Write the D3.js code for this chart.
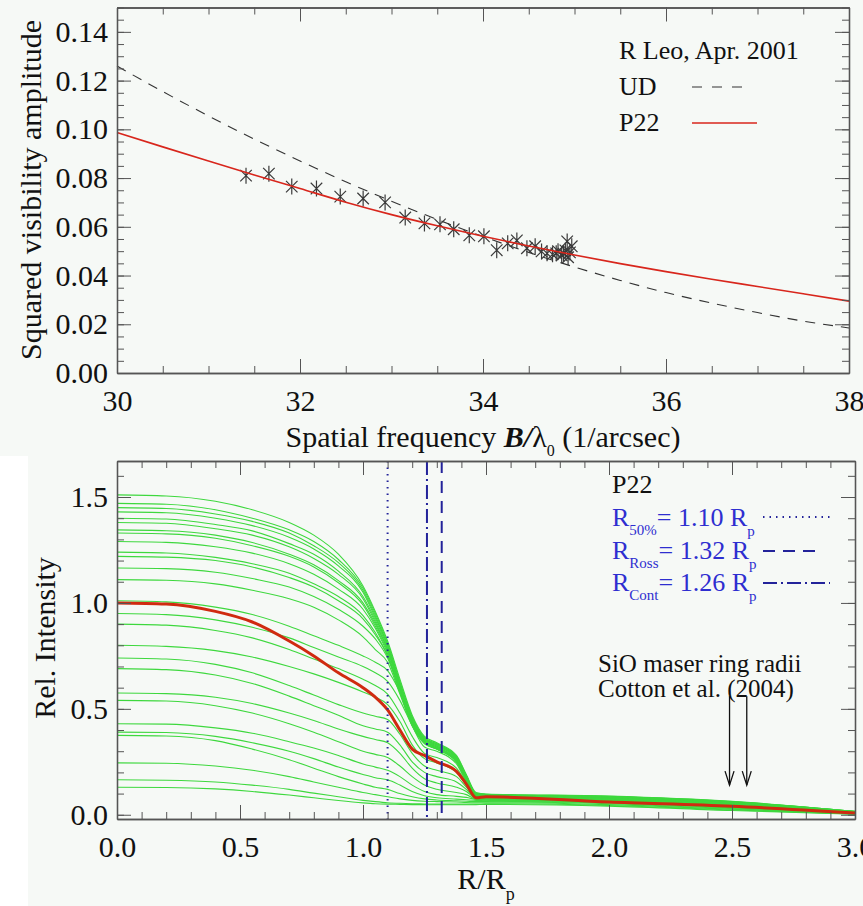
<!DOCTYPE html>
<html>
<head>
<meta charset="utf-8">
<script src="https://cdn.jsdelivr.net/npm/d3@7"></script>
<style>
  body { margin: 0; background: #fff; }
  svg, svg text { font-family: "Liberation Serif", "DejaVu Serif", "Noto Serif", "Times New Roman", Times, serif; }
</style>
</head>
<body>
<svg id="chart" width="863" height="906"></svg>
<script>
var serif = "'Liberation Serif', 'DejaVu Serif', 'Noto Serif', 'Times New Roman', Times, serif";

// ---- top panel: R Leo squared visibilities (Apr. 2001) ----
var visFreq = [31.41, 31.66, 31.91, 32.18, 32.44, 32.69, 32.93, 33.15, 33.36, 33.53, 33.68,
  33.85, 34.01, 34.15, 34.27, 34.37, 34.48, 34.57, 34.64, 34.70, 34.76, 34.80, 34.82,
  34.86, 34.88, 34.90, 34.92, 34.93, 34.95, 34.97];
var visAmp = [0.0810, 0.0818, 0.0765, 0.0757, 0.0724, 0.0716, 0.0700, 0.0638, 0.0614, 0.0610, 0.0590,
  0.0565, 0.0561, 0.0504, 0.0532, 0.0544, 0.0512, 0.0520, 0.0499, 0.0491, 0.0487, 0.0491, 0.0500,
  0.0483, 0.0490, 0.0503, 0.0540, 0.0475, 0.0495, 0.0520];

var modelFreq = [30, 30.5, 31, 31.5, 32, 32.5, 33, 33.5, 34, 34.5, 35, 35.5, 36, 36.5, 37, 37.5, 38];
var udAmp = [0.126, 0.1155, 0.1055, 0.096, 0.087, 0.0785, 0.0705, 0.063, 0.056, 0.0495, 0.0435,
  0.038, 0.033, 0.0287, 0.0248, 0.0213, 0.0185];
var p22Amp = [0.0987, 0.0928, 0.0870, 0.0813, 0.0757, 0.0701, 0.0650, 0.0604, 0.0561, 0.0521, 0.0484,
  0.0449, 0.0416, 0.0385, 0.0355, 0.0325, 0.0295];

var freqTicks = [30, 32, 34, 36, 38];
var ampTicks = [0, 0.02, 0.04, 0.06, 0.08, 0.10, 0.12, 0.14];

// ---- bottom panel: P22 intensity profiles ----
var radius = [0, 0.2, 0.4, 0.55, 0.7, 0.8, 0.9, 1.0, 1.05, 1.1, 1.15, 1.2, 1.25, 1.3, 1.38, 1.42, 1.46, 1.5, 2.0, 2.5, 3.0];
var phaseProfiles = [
  [1.51, 1.505, 1.48, 1.44, 1.38, 1.32, 1.23, 1.08, 0.96, 0.82, 0.64, 0.47, 0.37, 0.34, 0.28, 0.19, 0.105, 0.098, 0.088, 0.063, 0.016],
  [1.47, 1.466, 1.44, 1.40, 1.345, 1.29, 1.205, 1.07, 0.95, 0.81, 0.63, 0.46, 0.365, 0.335, 0.275, 0.185, 0.10, 0.097, 0.087, 0.062, 0.016],
  [1.45, 1.446, 1.42, 1.385, 1.33, 1.27, 1.19, 1.06, 0.94, 0.80, 0.62, 0.46, 0.36, 0.335, 0.275, 0.185, 0.10, 0.096, 0.086, 0.061, 0.015],
  [1.43, 1.426, 1.40, 1.365, 1.31, 1.255, 1.175, 1.05, 0.93, 0.80, 0.62, 0.45, 0.36, 0.33, 0.27, 0.18, 0.10, 0.095, 0.085, 0.060, 0.015],
  [1.40, 1.396, 1.37, 1.34, 1.28, 1.23, 1.15, 1.03, 0.92, 0.79, 0.61, 0.45, 0.355, 0.33, 0.27, 0.18, 0.098, 0.094, 0.084, 0.059, 0.014],
  [1.38, 1.376, 1.35, 1.32, 1.265, 1.21, 1.135, 1.02, 0.91, 0.78, 0.61, 0.44, 0.355, 0.325, 0.265, 0.178, 0.097, 0.093, 0.083, 0.058, 0.014],
  [1.345, 1.341, 1.32, 1.285, 1.23, 1.18, 1.105, 1.00, 0.90, 0.78, 0.60, 0.44, 0.35, 0.325, 0.265, 0.175, 0.096, 0.092, 0.082, 0.057, 0.013],
  [1.33, 1.326, 1.305, 1.27, 1.22, 1.17, 1.095, 0.99, 0.89, 0.77, 0.60, 0.44, 0.35, 0.32, 0.26, 0.175, 0.095, 0.091, 0.081, 0.056, 0.013],
  [1.29, 1.286, 1.265, 1.235, 1.185, 1.135, 1.065, 0.97, 0.88, 0.76, 0.59, 0.43, 0.345, 0.32, 0.26, 0.17, 0.094, 0.090, 0.080, 0.055, 0.012],
  [1.24, 1.236, 1.215, 1.185, 1.14, 1.09, 1.03, 0.94, 0.86, 0.75, 0.59, 0.43, 0.345, 0.315, 0.255, 0.17, 0.093, 0.089, 0.079, 0.054, 0.012],
  [1.22, 1.216, 1.20, 1.17, 1.12, 1.075, 1.01, 0.925, 0.85, 0.75, 0.58, 0.43, 0.34, 0.315, 0.255, 0.168, 0.092, 0.088, 0.078, 0.053, 0.011],
  [1.165, 1.162, 1.145, 1.115, 1.075, 1.03, 0.97, 0.89, 0.83, 0.74, 0.58, 0.42, 0.34, 0.31, 0.25, 0.165, 0.090, 0.087, 0.077, 0.052, 0.011],
  [1.11, 1.107, 1.09, 1.06, 1.02, 0.98, 0.92, 0.84, 0.78, 0.72, 0.57, 0.42, 0.335, 0.31, 0.25, 0.165, 0.090, 0.086, 0.076, 0.051, 0.010],
  [1.01, 1.005, 0.98, 0.945, 0.89, 0.845, 0.80, 0.75, 0.72, 0.68, 0.58, 0.45, 0.34, 0.31, 0.25, 0.16, 0.088, 0.085, 0.075, 0.050, 0.010],
  [0.95, 0.945, 0.92, 0.885, 0.835, 0.79, 0.745, 0.70, 0.67, 0.63, 0.54, 0.42, 0.32, 0.30, 0.24, 0.155, 0.086, 0.083, 0.073, 0.048, 0.009],
  [0.90, 0.895, 0.87, 0.835, 0.78, 0.735, 0.69, 0.64, 0.61, 0.57, 0.48, 0.37, 0.29, 0.27, 0.22, 0.15, 0.084, 0.081, 0.071, 0.046, 0.009],
  [0.80, 0.795, 0.775, 0.745, 0.70, 0.665, 0.625, 0.58, 0.555, 0.52, 0.44, 0.33, 0.265, 0.245, 0.20, 0.14, 0.082, 0.079, 0.069, 0.044, 0.008],
  [0.74, 0.735, 0.71, 0.67, 0.61, 0.565, 0.52, 0.48, 0.465, 0.45, 0.38, 0.29, 0.23, 0.21, 0.18, 0.13, 0.080, 0.077, 0.067, 0.042, 0.008],
  [0.69, 0.685, 0.66, 0.62, 0.56, 0.515, 0.47, 0.42, 0.405, 0.39, 0.33, 0.25, 0.20, 0.18, 0.155, 0.12, 0.078, 0.075, 0.065, 0.040, 0.007],
  [0.575, 0.572, 0.555, 0.525, 0.48, 0.445, 0.405, 0.37, 0.355, 0.34, 0.29, 0.22, 0.17, 0.15, 0.13, 0.11, 0.076, 0.073, 0.063, 0.038, 0.007],
  [0.54, 0.537, 0.515, 0.48, 0.43, 0.39, 0.345, 0.30, 0.285, 0.27, 0.23, 0.18, 0.14, 0.12, 0.105, 0.095, 0.074, 0.071, 0.061, 0.036, 0.006],
  [0.43, 0.428, 0.41, 0.385, 0.345, 0.315, 0.28, 0.24, 0.225, 0.21, 0.18, 0.14, 0.11, 0.095, 0.087, 0.082, 0.072, 0.069, 0.059, 0.034, 0.006],
  [0.39, 0.388, 0.37, 0.34, 0.30, 0.265, 0.225, 0.19, 0.175, 0.165, 0.14, 0.11, 0.09, 0.08, 0.074, 0.071, 0.068, 0.066, 0.056, 0.032, 0.005],
  [0.375, 0.372, 0.35, 0.31, 0.26, 0.22, 0.18, 0.145, 0.13, 0.12, 0.10, 0.085, 0.075, 0.07, 0.066, 0.064, 0.062, 0.062, 0.052, 0.029, 0.005],
  [0.245, 0.243, 0.23, 0.21, 0.18, 0.155, 0.13, 0.105, 0.095, 0.085, 0.075, 0.068, 0.064, 0.062, 0.060, 0.058, 0.057, 0.057, 0.048, 0.026, 0.004],
  [0.165, 0.163, 0.155, 0.14, 0.12, 0.102, 0.085, 0.068, 0.062, 0.057, 0.054, 0.052, 0.051, 0.050, 0.050, 0.050, 0.050, 0.052, 0.044, 0.023, 0.003],
  [0.13, 0.129, 0.122, 0.11, 0.093, 0.08, 0.067, 0.056, 0.052, 0.050, 0.049, 0.048, 0.048, 0.047, 0.047, 0.047, 0.048, 0.049, 0.041, 0.020, 0.003]
];
var meanProfile = [1.0, 0.995, 0.96, 0.91, 0.82, 0.75, 0.67, 0.60, 0.555, 0.495, 0.40, 0.31, 0.28, 0.25, 0.205, 0.145, 0.08, 0.085, 0.06, 0.04, 0.008];

var radiusTicks = [0, 0.5, 1.0, 1.5, 2.0, 2.5, 3.0];
var intensityTicks = [0, 0.5, 1.0, 1.5];

var refNames = ["50%", "Ross", "Cont"];
var refRadii = [1.10, 1.32, 1.26];
var refDash = ["1.5,5", "12,8", "14,4,2,4"];
var maserRadii = [2.49, 2.56];

var svg = d3.select("#chart");
var blueLine = "#23239a", blueText = "#2e2ed0";

// panel backgrounds
svg.append("rect").attr("x", 0).attr("y", 0).attr("width", 863).attr("height", 456).attr("fill", "#f6f9f6");
svg.append("rect").attr("x", 28).attr("y", 456).attr("width", 835).attr("height", 450).attr("fill", "#f6f9f6");

// boxed IDL-style frame with inward ticks on all four sides
function drawFrame(x, y, xTicks, yTicks, fx, fy, nxMinor, nyMinor) {
  var x0 = x.range()[0], x1 = x.range()[1], y0 = y.range()[0], y1 = y.range()[1];
  var g = svg.append("g");
  g.append("g").attr("transform", "translate(0," + y0 + ")")
    .call(d3.axisBottom(x).ticks(nxMinor).tickSize(-7).tickSizeOuter(0).tickFormat(""));
  g.append("g").attr("transform", "translate(0," + y1 + ")")
    .call(d3.axisTop(x).ticks(nxMinor).tickSize(-7).tickSizeOuter(0).tickFormat(""));
  g.append("g").attr("transform", "translate(" + x0 + ",0)")
    .call(d3.axisLeft(y).ticks(nyMinor).tickSize(-7).tickSizeOuter(0).tickFormat(""));
  g.append("g").attr("transform", "translate(" + x1 + ",0)")
    .call(d3.axisRight(y).ticks(nyMinor).tickSize(-7).tickSizeOuter(0).tickFormat(""));

  g.append("g").attr("transform", "translate(0," + y0 + ")")
    .call(d3.axisBottom(x).tickValues(xTicks).tickSize(-14).tickSizeOuter(0).tickPadding(17).tickFormat(fx));
  g.append("g").attr("transform", "translate(0," + y1 + ")")
    .call(d3.axisTop(x).tickValues(xTicks).tickSize(-14).tickSizeOuter(0).tickFormat(""));
  g.append("g").attr("transform", "translate(" + x0 + ",0)")
    .call(d3.axisLeft(y).tickValues(yTicks).tickSize(-14).tickSizeOuter(0).tickPadding(9).tickFormat(fy));
  g.append("g").attr("transform", "translate(" + x1 + ",0)")
    .call(d3.axisRight(y).tickValues(yTicks).tickSize(-14).tickSizeOuter(0).tickFormat(""));

  g.selectAll("g").attr("font-family", serif);
  g.selectAll("text").attr("font-size", 30).style("font-family", serif).attr("fill", "#111");
  g.selectAll("path.domain").attr("stroke", "#555").attr("stroke-width", 1.3);
  g.selectAll("line").attr("stroke", "#555");
}

function label(x, y, size, color, str) {
  return svg.append("text").attr("x", x).attr("y", y)
    .attr("font-size", size).attr("fill", color).style("font-family", serif).text(str);
}

// ================= TOP PANEL =================
var xTop = d3.scaleLinear().domain([30, 38]).range([117, 849]);
var yTop = d3.scaleLinear().domain([0, 0.15]).range([373, 7.5]);

var modelLine = d3.line()
  .x(function(d, i) { return xTop(modelFreq[i]); })
  .y(function(d) { return yTop(d); })
  .curve(d3.curveMonotoneX);

svg.append("path").datum(udAmp)
  .attr("fill", "none").attr("stroke", "#333").attr("stroke-width", 1.1)
  .attr("stroke-dasharray", "10,8").attr("d", modelLine);

// asterisk: vertical bar plus an X
var asterisk = {
  draw: function(context, size) {
    var r = Math.sqrt(size) / 2;
    var u = r * 0.72;
    context.moveTo(0, -r); context.lineTo(0, r);
    context.moveTo(-u, -u); context.lineTo(u, u);
    context.moveTo(-u, u); context.lineTo(u, -u);
  }
};
svg.selectAll(".vis")
  .data(visFreq)
  .enter()
  .append("path")
  .attr("class", "vis")
  .attr("transform", function(d, i) { return "translate(" + xTop(d) + "," + yTop(visAmp[i]) + ")"; })
  .attr("d", d3.symbol().type(asterisk).size(256))
  .attr("fill", "none").attr("stroke", "#3a3a3a").attr("stroke-width", 1.2);

svg.append("path").datum(p22Amp)
  .attr("fill", "none").attr("stroke", "#d8261c").attr("stroke-width", 1.6).attr("d", modelLine);

drawFrame(xTop, yTop, freqTicks, ampTicks, d3.format("d"), d3.format(".2f"), 16, 30);

label(0, 0, 30, "#111", "Squared visibility amplitude")
  .attr("x", null).attr("y", null)
  .attr("transform", "translate(41,190) rotate(-90)")
  .attr("text-anchor", "middle");

var xt = label(483, 447, 30, "#111", null).attr("text-anchor", "middle");
xt.append("tspan").text("Spatial frequency ");
xt.append("tspan").attr("font-weight", "bold").attr("font-style", "italic").text("B/");
xt.append("tspan").text("λ");
xt.append("tspan").attr("font-size", 16).attr("dy", 9).text("0");
xt.append("tspan").attr("dy", -9).text(" (1/arcsec)");

// top legend
label(619, 59, 26, "#111", "R Leo, Apr. 2001");
label(619, 95, 26, "#111", "UD");
label(619, 131, 26, "#111", "P22");
svg.append("line").attr("x1", 692).attr("x2", 752).attr("y1", 87).attr("y2", 87)
  .attr("stroke", "#333").attr("stroke-width", 1.1).attr("stroke-dasharray", "10,10");
svg.append("line").attr("x1", 692).attr("x2", 757).attr("y1", 123).attr("y2", 123)
  .attr("stroke", "#d8261c").attr("stroke-width", 1.6);

// ================= BOTTOM PANEL =================
var xBot = d3.scaleLinear().domain([0, 3]).range([117, 855]);
var yBot = d3.scaleLinear().domain([-0.02, 1.67]).range([819, 461]);

var profileLine = d3.line()
  .x(function(d, i) { return xBot(radius[i]); })
  .y(function(d) { return yBot(d); })
  .curve(d3.curveMonotoneX);

svg.append("g").selectAll("path")
  .data(phaseProfiles)
  .enter()
  .append("path")
  .attr("fill", "none").attr("stroke", "#3ed83e").attr("stroke-width", 1.1)
  .attr("d", profileLine);

svg.append("path").datum(meanProfile)
  .attr("fill", "none").attr("stroke", "#d02a10").attr("stroke-width", 3).attr("d", profileLine);

// characteristic radii
svg.selectAll(".refline")
  .data(refRadii)
  .enter()
  .append("line")
  .attr("class", "refline")
  .attr("x1", function(d) { return xBot(d); }).attr("x2", function(d) { return xBot(d); })
  .attr("y1", yBot.range()[1]).attr("y2", yBot.range()[0])
  .attr("stroke", blueLine).attr("stroke-width", 2)
  .attr("stroke-dasharray", function(d, i) { return refDash[i]; });

// SiO maser arrows
maserRadii.forEach(function(r) {
  var xa = xBot(r), ya = yBot(0.56), yb = yBot(0.14);
  svg.append("line").attr("x1", xa).attr("x2", xa).attr("y1", ya).attr("y2", yb)
    .attr("stroke", "#111").attr("stroke-width", 1.3);
  svg.append("path").attr("d", "M" + (xa - 4.5) + "," + (yb - 14) + "L" + xa + "," + yb + "L" + (xa + 4.5) + "," + (yb - 14))
    .attr("fill", "none").attr("stroke", "#111").attr("stroke-width", 1.3);
});

drawFrame(xBot, yBot, radiusTicks, intensityTicks, d3.format(".1f"), d3.format(".1f"), 30, 17);

label(0, 0, 30, "#111", "Rel. Intensity")
  .attr("x", null).attr("y", null)
  .attr("transform", "translate(55,638) rotate(-90)")
  .attr("text-anchor", "middle");

var rt = label(486, 889, 30, "#111", null).attr("text-anchor", "middle");
rt.append("tspan").text("R/R");
rt.append("tspan").attr("font-size", 18).attr("dy", 11).text("p");

// bottom legend
label(612, 493, 26, "#111", "P22");
var legY = [526, 559, 591];
var legLineY = [517, 551, 583];
var legEnd = [833, 823, 830];
refNames.forEach(function(name, i) {
  var t = label(612, legY[i], 26, blueText, null);
  t.append("tspan").text("R");
  t.append("tspan").attr("font-size", 15).attr("dy", 9).text(name);
  t.append("tspan").attr("dy", -9).text("= " + d3.format(".2f")(refRadii[i]) + " R");
  t.append("tspan").attr("font-size", 15).attr("dy", 10).text("p");
  svg.append("line").attr("x1", 763).attr("x2", legEnd[i]).attr("y1", legLineY[i]).attr("y2", legLineY[i])
    .attr("stroke", blueLine).attr("stroke-width", 2).attr("stroke-dasharray", refDash[i]);
});

label(598, 672, 25, "#111", "SiO maser ring radii");
label(598, 697, 25, "#111", "Cotton et al. (2004)");
</script>
</body>
</html>
